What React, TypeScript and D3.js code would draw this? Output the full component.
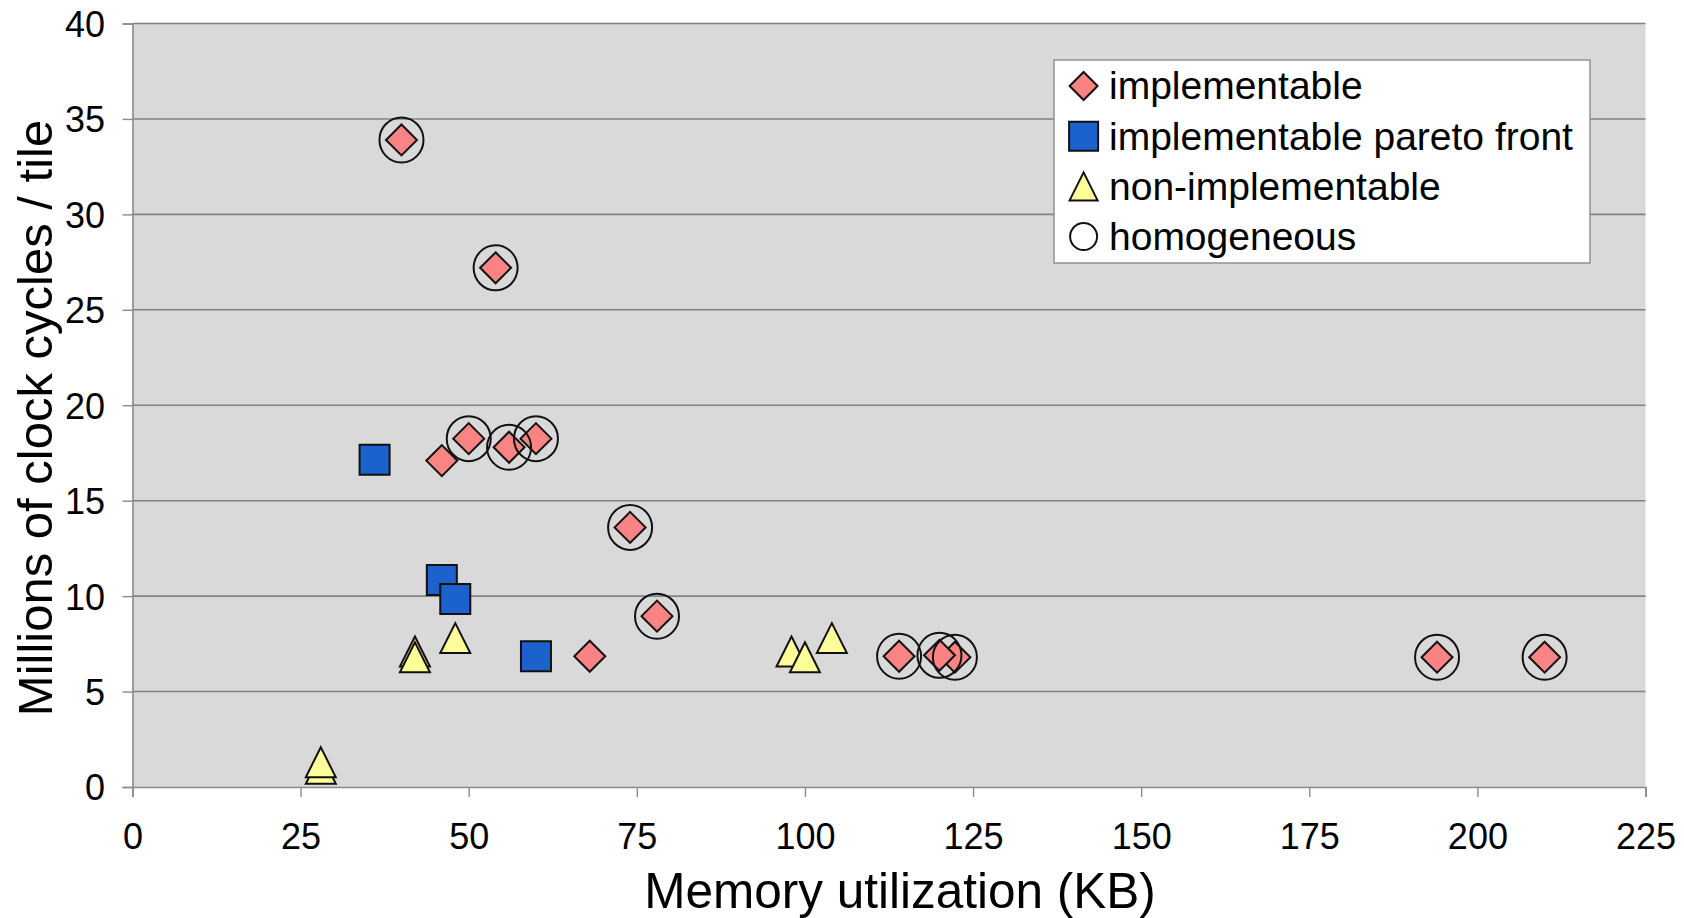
import React, { useRef, useEffect } from 'react';
import * as d3 from 'd3';

// memory (KB), cycles (millions / tile)
const implementableX = [40, 54, 46, 50, 60, 56, 74, 78, 68, 114, 122.3, 120, 194, 210];
const implementableY = [33.9, 27.2, 17.1, 18.25, 18.25, 17.8, 13.6, 8.95, 6.85, 6.85, 6.8, 6.9, 6.8, 6.8];

const paretoX = [36, 46, 48, 60];
const paretoY = [17.15, 10.85, 9.85, 6.85];

const nonImplX = [28, 28, 42, 42, 48, 98, 100, 104];
const nonImplY = [0.95, 1.3, 7.1, 6.8, 7.8, 7.1, 6.8, 7.8];

const homogeneousX = [40, 54, 50, 56, 60, 74, 78, 114, 120, 122.3, 194, 210];
const homogeneousY = [33.9, 27.2, 18.25, 17.8, 18.25, 13.6, 8.95, 6.85, 6.9, 6.8, 6.8, 6.8];

const xTicks = [0, 25, 50, 75, 100, 125, 150, 175, 200, 225];
const yTicks = [0, 5, 10, 15, 20, 25, 30, 35, 40];

const legendLabels = ['implementable', 'implementable pareto front', 'non-implementable', 'homogeneous'];

const W = 1684;
const H = 918;
const FONT = '"Liberation Sans", Arial, Helvetica, sans-serif';
const NARROW = '"Liberation Sans Narrow", "Arial Narrow", "Liberation Sans", sans-serif';

const PINK = '#f98483';
const BLUE = '#1c62cc';
const YELLOW = '#ffff99';

const zip = (xs: number[], ys: number[]) => xs.map((x, i) => ({ x, y: ys[i] }));

const ScatterChart: React.FC = () => {
    const svgRef = useRef<SVGSVGElement | null>(null);

    useEffect(() => {
        const svg = d3.select(svgRef.current);
        svg.selectAll('*').remove();

        const margin = { top: 23.5, right: 38.5, bottom: 131, left: 132.5 };
        const width = W - margin.left - margin.right;
        const height = H - margin.top - margin.bottom;

        const x = d3.scaleLinear().domain([0, 225]).range([0, width]);
        const y = d3.scaleLinear().domain([0, 40]).range([height, 0]);

        const g = svg.append('g').attr('transform', `translate(${margin.left},${margin.top})`);

        g.append('rect')
            .attr('width', width)
            .attr('height', height)
            .attr('fill', '#d9d9d9');

        // gridlines
        g.append('g')
            .selectAll('line')
            .data(yTicks.filter(d => d > 0))
            .enter()
            .append('line')
            .attr('x1', 0)
            .attr('x2', width)
            .attr('y1', d => y(d))
            .attr('y2', d => y(d))
            .attr('stroke', '#828282')
            .attr('stroke-width', 1.6);

        const xAxis = g.append('g')
            .attr('transform', `translate(0,${height})`)
            .call(d3.axisBottom(x).tickValues(xTicks).tickSize(10).tickPadding(26).tickFormat(d3.format('d')));
        const yAxis = g.append('g')
            .call(d3.axisLeft(y).tickValues(yTicks).tickSize(10).tickPadding(17.5).tickFormat(d3.format('d')));

        [xAxis, yAxis].forEach(a => {
            a.select('.domain').attr('stroke', '#8a8a8a').attr('stroke-width', 1.6);
            a.selectAll('.tick line').attr('stroke', '#8a8a8a').attr('stroke-width', 1.4);
            a.selectAll('.tick text')
                .attr('fill', '#000')
                .style('font-family', NARROW)
                .style('font-size', '36px');
        });
        yAxis.selectAll('.tick text').attr('dy', '0.36em');

        const diamond = (s: number) => `M0,${-s}L${s},0L0,${s}L${-s},0Z`;
        const square = (s: number) => `M${-s},${-s}H${s}V${s}H${-s}Z`;
        const triangle = (s: number) => `M0,${-s}L${s},${s}L${-s},${s}Z`;

        g.selectAll('.impl')
            .data(zip(implementableX, implementableY))
            .enter()
            .append('path')
            .attr('class', 'impl')
            .attr('d', diamond(15.5))
            .attr('transform', d => `translate(${x(d.x)},${y(d.y)})`)
            .attr('fill', PINK)
            .attr('stroke', '#111')
            .attr('stroke-width', 2);

        g.selectAll('.pareto')
            .data(zip(paretoX, paretoY))
            .enter()
            .append('path')
            .attr('class', 'pareto')
            .attr('d', square(15))
            .attr('transform', d => `translate(${x(d.x)},${y(d.y)})`)
            .attr('fill', BLUE)
            .attr('stroke', '#111')
            .attr('stroke-width', 2);

        g.selectAll('.nonimpl')
            .data(zip(nonImplX, nonImplY))
            .enter()
            .append('path')
            .attr('class', 'nonimpl')
            .attr('d', triangle(15))
            .attr('transform', d => `translate(${x(d.x)},${y(d.y)})`)
            .attr('fill', YELLOW)
            .attr('stroke', '#111')
            .attr('stroke-width', 2);

        g.selectAll('.homog')
            .data(zip(homogeneousX, homogeneousY))
            .enter()
            .append('ellipse')
            .attr('class', 'homog')
            .attr('cx', d => x(d.x))
            .attr('cy', d => y(d.y))
            .attr('rx', 22)
            .attr('ry', 22.5)
            .attr('fill', 'none')
            .attr('stroke', '#111')
            .attr('stroke-width', 2);

        // legend
        const lg = svg.append('g').attr('transform', 'translate(1054,60)');
        lg.append('rect')
            .attr('width', 536)
            .attr('height', 203)
            .attr('fill', '#fff')
            .attr('stroke', '#8a8a8a')
            .attr('stroke-width', 1.4);

        const rowY = (i: number) => 26 + i * 50.2;
        const symbols = [
            { d: diamond(14), fill: PINK },
            { d: square(14.5), fill: BLUE },
            { d: triangle(14), fill: YELLOW },
            { d: null, fill: 'none' },
        ];
        symbols.forEach((s, i) => {
            if (s.d) {
                lg.append('path')
                    .attr('d', s.d)
                    .attr('transform', `translate(29.6,${rowY(i)})`)
                    .attr('fill', s.fill)
                    .attr('stroke', '#111')
                    .attr('stroke-width', 2);
            } else {
                lg.append('circle')
                    .attr('cx', 29.6)
                    .attr('cy', rowY(i))
                    .attr('r', 13.5)
                    .attr('fill', 'none')
                    .attr('stroke', '#111')
                    .attr('stroke-width', 2);
            }
        });
        lg.selectAll('.ltext')
            .data(legendLabels)
            .enter()
            .append('text')
            .attr('class', 'ltext')
            .attr('x', 55)
            .attr('y', (d, i) => rowY(i) + 13.3)
            .style('font-family', FONT)
            .style('font-size', '39px')
            .text(d => d);

        // axis titles
        svg.append('text')
            .attr('x', 900)
            .attr('y', 908)
            .attr('text-anchor', 'middle')
            .style('font-family', FONT)
            .style('font-size', '49.5px')
            .text('Memory utilization (KB)');

        svg.append('text')
            .attr('transform', 'translate(52,418) rotate(-90)')
            .attr('text-anchor', 'middle')
            .style('font-family', FONT)
            .style('font-size', '49px')
            .text('Millions of clock cycles / tile');
    }, []);

    return (
        <svg
            ref={svgRef}
            width={W}
            height={H}
            style={{ position: 'absolute', left: 0, top: 0, background: '#fff' }}
        />
    );
};

export default function App() {
    return <ScatterChart />;
}
